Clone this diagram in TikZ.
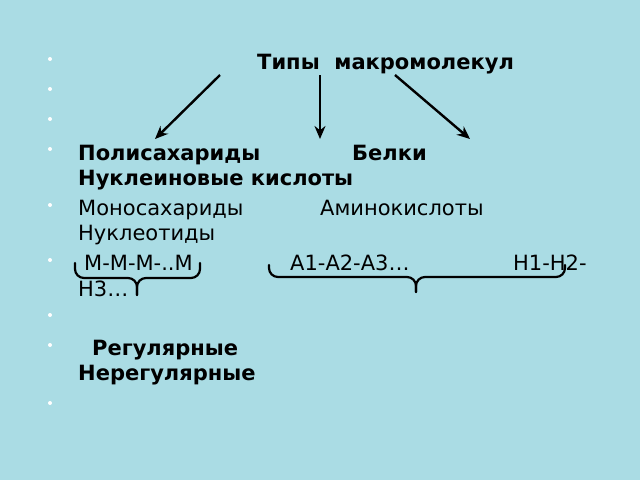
\documentclass[tikz,border=0pt]{standalone}
\usepackage{fontspec}
\setmainfont{DejaVu Sans}
\usetikzlibrary{arrows.meta}
\definecolor{bgblue}{RGB}{170,220,228}
\tikzset{
  txt/.style={anchor=base west, inner sep=0pt, font=\fontsize{21}{25}\selectfont},
  btxt/.style={txt, font=\fontsize{21}{25}\selectfont\bfseries},
  arr/.style={line width=2.4pt, -{Stealth[length=13pt,width=11pt]}},
  brc/.style={line width=2.2pt, rounded corners=9pt, line cap=round},
  dot/.style={circle, fill=white, inner sep=0pt, minimum size=4pt}
}
\begin{document}
\begin{tikzpicture}[x=1pt,y=-1pt]
\fill[bgblue] (0,0) rectangle (640,480);
\useasboundingbox (0,0) rectangle (640,480);
% bullets
\foreach \yy/\nn in {59/1,89/2,119/3,149/4,205/5,260/6,315/7,345/8,403/9}
  \node[dot] (d\nn) at (50,\yy) {};
% texts
\node[btxt] (title) at (257,69) {Типы\ \ макромолекул};
\node[btxt] (poly) at (78,160) {Полисахариды};
\node[btxt] (belki) at (352,160) {Белки};
\node[btxt] (nukl) at (78,185) {Нуклеиновые кислоты};
\node[txt] (mono) at (78,215) {Моносахариды};
\node[txt] (amino) at (320,215) {Аминокислоты};
\node[txt] (nuklt) at (78,240) {Нуклеотиды};
\node[txt] (mmm) at (84,270) {М-М-М-..М};
\node[txt] (aaa) at (290,270) {А1-А2-А3…};
\node[txt] (hhh) at (513,270) {Н1-Н2-};
\node[txt] (hh3) at (78,296) {Н3…};
\node[btxt] (reg) at (92,355) {Регулярные};
\node[btxt] (nereg) at (78,380) {Нерегулярные};
% arrows
\coordinate (a1s) at (220,75); \coordinate (a1e) at (155,139);
\coordinate (a2s) at (320,75); \coordinate (a2e) at (320,139);
\coordinate (a3s) at (395,75); \coordinate (a3e) at (470,139);
\draw[arr] (a1s) -- (a1e);
\draw[arr] (a2s) -- (a2e);
\draw[arr] (a3s) -- (a3e);
% braces
\coordinate (b1l) at (75,263); \coordinate (b1r) at (200,263); \coordinate (b1t) at (137,295);
\coordinate (b2l) at (269,265); \coordinate (b2r) at (565,265); \coordinate (b2t) at (416,292);
\draw[brc] (b1l) -- (b1l |- 0,278) -- (b1t |- 0,278) -- (b1t);
\draw[brc] (b1r) -- (b1r |- 0,278) -- (b1t |- 0,278) -- (b1t);
\draw[brc] (b2l) -- (b2l |- 0,277) -- (b2t |- 0,277) -- (b2t);
\draw[brc] (b2r) -- (b2r |- 0,277) -- (b2t |- 0,277) -- (b2t);
\end{tikzpicture}
\end{document}
